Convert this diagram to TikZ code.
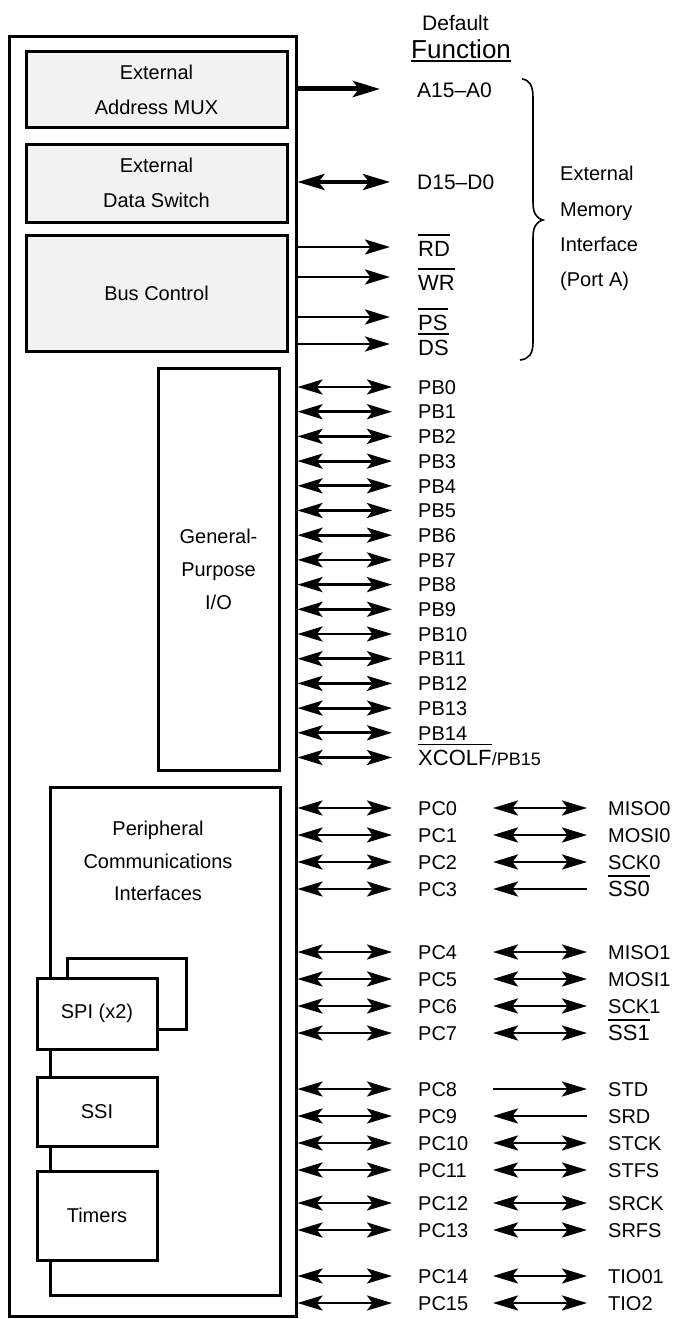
\documentclass[tikz,border=0pt]{standalone}
\usepackage{fontspec}
\setmainfont{Liberation Sans}
\usetikzlibrary{arrows.meta,fit,calc}
\tikzset{
  blk/.style={draw, line width=3pt, inner sep=0pt},
  gblk/.style={blk, fill=black!5},
  wblk/.style={blk, fill=white},
  boxtxt/.style={align=center, inner sep=0pt, font=\fontsize{20}{35}\selectfont},
  lbl/.style={inner sep=0pt, anchor=base west, font=\fontsize{20}{24}\selectfont},
  lblb/.style={inner sep=0pt, anchor=base west, font=\fontsize{22}{26}\selectfont},
  hd/.style={Stealth[length=25pt,width=15pt,inset=5.5pt]},
  dbl/.style={{Stealth[length=25pt,width=15pt,inset=5.5pt]}-{Stealth[length=25pt,width=15pt,inset=5.5pt]}, line width=2.8pt},
  toR/.style={-{Stealth[length=25pt,width=15pt,inset=5.5pt]}, line width=2.8pt},
  toL/.style={{Stealth[length=25pt,width=15pt,inset=5.5pt]}-, line width=2.8pt},
  ovl/.style={line width=1.4pt},
}
\begin{document}
\begin{tikzpicture}[x=1pt,y=-1pt]
\useasboundingbox (0,0) rectangle (678,1319);

% outer chip box
\node[blk, fit={(9.5,37) (296,1316)}] (outer) {};

% inner blocks
\node[gblk, fit={(26,52) (287,128)}] (amux) {};
\node[boxtxt] (amuxt) at (amux.center) {External\\Address MUX};
\node[gblk, fit={(26,144) (287,222)}] (dsw) {};
\node[boxtxt] (dswt) at (dsw.center) {External\\Data Switch};
\node[gblk, fit={(26,235) (287,351)}] (bus) {};
\node[boxtxt] (bust) at (bus.center) {Bus Control};
\node[blk, fit={(158,368) (279,770)}] (gpio) {};
\node[boxtxt, font=\fontsize{20}{33}\selectfont] (gpiot) at (gpio.center) {General-\\Purpose\\I/O};
\node[blk, fit={(50,787) (280,1295)}] (pci) {};
\node[boxtxt, font=\fontsize{20}{32.5}\selectfont] (pcit) at (158,861) {Peripheral\\Communications\\Interfaces};
\node[wblk, fit={(67,958) (186,1029)}] (spib) {};
\node[wblk, fit={(37,978) (157,1049)}] (spi) {};
\node[boxtxt] (spit) at (spi.center) {SPI (x2)};
\node[wblk, fit={(37,1077) (157,1146)}] (ssi) {};
\node[boxtxt] (ssit) at (ssi.center) {SSI};
\node[wblk, fit={(37,1171) (157,1260)}] (tim) {};
\node[boxtxt] (timt) at (tim.center) {Timers};

% heading
\node[lbl, font=\fontsize{21}{25}\selectfont] (deflt) at (422,30.5) {Default};
\node[lbl, font=\fontsize{26}{30}\selectfont] (func) at (411,58.5) {Function};
\draw[line width=1.5pt] ([yshift=-2.5pt]func.base west) -- ([yshift=-2.5pt]func.base east);

% external memory interface
\node[lbl, font=\fontsize{21}{25}\selectfont] (addr) at (417,97.5) {A15\textendash A0};
\coordinate (addrt) at (380,89);
\draw[-{Stealth[length=27pt,width=16pt,inset=6pt]}, line width=5pt] (outer.east |- addrt) -- (addrt);

\node[lbl, font=\fontsize{21}{25}\selectfont] (data) at (417,189.5) {D15\textendash D0};
\coordinate (datat) at (390,182);
\draw[{Stealth[length=27pt,width=16pt,inset=6pt]}-{Stealth[length=27pt,width=16pt,inset=6pt]}, line width=4pt] (outer.east |- datat) -- (datat);

\node[lblb] (rd) at (418,256) {RD};
\coordinate (rdt) at (390,247);
\draw[toR] (outer.east |- rdt) -- (rdt);
\draw[ovl] ([yshift=21pt]rd.base west) -- ([yshift=21pt]rd.base east);

\node[lblb] (wr) at (418,290) {WR};
\coordinate (wrt) at (390,277);
\draw[toR] (outer.east |- wrt) -- (wrt);
\draw[ovl] ([yshift=21pt]wr.base west) -- ([yshift=21pt]wr.base east);

\node[lblb] (ps) at (418,330) {PS};
\coordinate (pst) at (390,317);
\draw[toR] (outer.east |- pst) -- (pst);
\draw[ovl] ([yshift=21pt]ps.base west) -- ([yshift=21pt]ps.base east);

\node[lblb] (ds) at (418,355) {DS};
\coordinate (dst) at (390,344);
\draw[toR] (outer.east |- dst) -- (dst);
\draw[ovl] ([yshift=21pt]ds.base west) -- ([yshift=21pt]ds.base east);

% brace and its text
\draw[line width=1.6pt] (522,79) .. controls (530,80) and (533,86) .. (533,98)
  -- (533,202) .. controls (533,213) and (536,218) .. (543,220)
  .. controls (536,222) and (533,227) .. (533,238)
  -- (533,342) .. controls (533,354) and (529,359) .. (520,360);
\node[lbl] (em1) at (560,180.2) {External};
\node[lbl] (em2) at (560,216.2) {Memory};
\node[lbl] (em3) at (560,251.2) {Interface};
\node[lbl] (em4) at (560,286.2) {(Port A)};

% port B
\foreach \i in {0,...,14} {
  \pgfmathsetmacro\yy{387+24.7*\i}
  \coordinate (pbt\i) at (392,\yy);
  \node[lbl] (pb\i) at (418,\yy+7.2) {PB\i};
  \draw[dbl] (outer.east |- pbt\i) -- (pbt\i);
}
\coordinate (pbt15) at (392,757.5);
\node[lblb] (xcolf) at (418,765.5) {XCOLF};
\node[lbl, font=\fontsize{18}{22}\selectfont] (pb15) at (xcolf.base east) {/PB15};
\draw[dbl] (outer.east |- pbt15) -- (pbt15);
\draw[ovl] ([yshift=21pt]xcolf.base west) -- ([yshift=21pt]xcolf.base east);

% port C
\foreach \n/\yy/\sty/\sig in {0/808/dbl/MISO0, 1/835/dbl/MOSI0, 2/862/dbl/SCK0,
   4/952/dbl/MISO1, 5/979/dbl/MOSI1, 6/1006/dbl/SCK1,
   8/1089/toR/STD, 9/1116/toL/SRD, 10/1143/dbl/STCK, 11/1170/dbl/STFS,
   12/1203/dbl/SRCK, 13/1230/dbl/SRFS, 14/1276/dbl/TIO01, 15/1303/dbl/TIO2} {
  \coordinate (pct\n) at (392,\yy);
  \coordinate (sga\n) at (493,\yy);
  \coordinate (sgb\n) at (587,\yy);
  \node[lbl] (pc\n) at (418,\yy+7.2) {PC\n};
  \node[lbl] (sg\n) at (608,\yy+7.2) {\sig};
  \draw[dbl] (outer.east |- pct\n) -- (pct\n);
  \draw[\sty] (sga\n) -- (sgb\n);
}
\foreach \n/\yy/\sty/\sig in {3/889/toL/SS0, 7/1033/dbl/SS1} {
  \coordinate (pct\n) at (392,\yy);
  \coordinate (sga\n) at (493,\yy);
  \coordinate (sgb\n) at (587,\yy);
  \node[lbl] (pc\n) at (418,\yy+7.2) {PC\n};
  \node[lblb] (sg\n) at (608,\yy+7.9) {\sig};
  \draw[ovl] ([yshift=21pt]sg\n.base west) -- ([yshift=21pt]sg\n.base east);
  \draw[dbl] (outer.east |- pct\n) -- (pct\n);
  \draw[\sty] (sga\n) -- (sgb\n);
}
\end{tikzpicture}
\end{document}
